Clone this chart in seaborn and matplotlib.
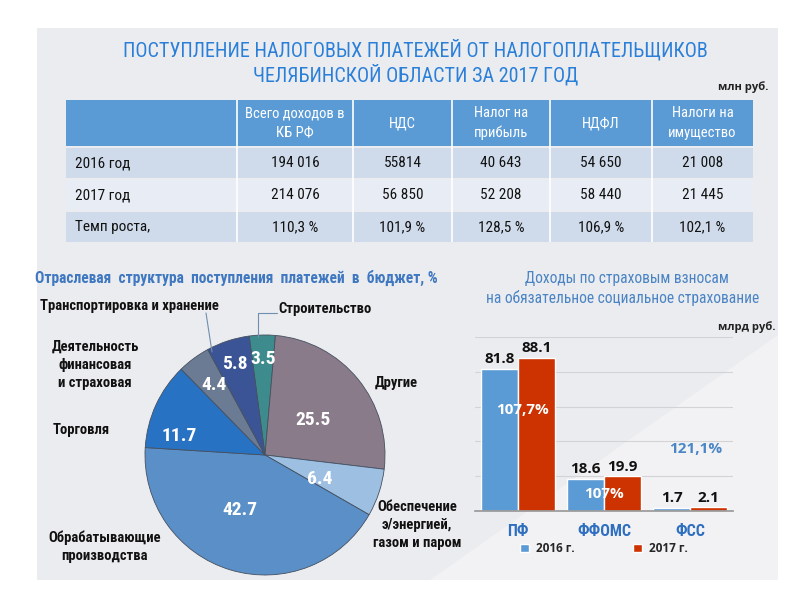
import numpy as np
import pandas as pd
import matplotlib
matplotlib.use("Agg")
import matplotlib.pyplot as plt
import seaborn as sns
from matplotlib import font_manager as fm
from matplotlib.patches import Rectangle, Polygon
from matplotlib.lines import Line2D
from matplotlib.colors import LinearSegmentedColormap

# --- table: tax receipts, mln rub ---
table_cols = ["Всего доходов в\nКБ РФ", "НДС", "Налог на\nприбыль", "НДФЛ", "Налоги на\nимущество"]
table_rows = ["2016 год", "2017 год", "Темп роста,"]
taxes_2016 = ["194 016", "55814", "40 643", "54 650", "21 008"]
taxes_2017 = ["214 076", "56 850", "52 208", "58 440", "21 445"]
taxes_growth = ["110,3 %", "101,9 %", "128,5 %", "106,9 %", "102,1 %"]

# --- pie: sector structure, % ---
sectors = ["Строительство", "Другие", "Обеспечение\nэ/энергией,\nгазом и паром",
           "Обрабатывающие\nпроизводства", "Торговля",
           "Деятельность\nфинансовая\nи страховая", "Транспортировка и хранение"]
shares = [3.5, 25.5, 6.4, 42.7, 11.7, 4.4, 5.8]

# --- bars: insurance contributions, bln rub ---
funds = ["ПФ", "ФФОМС", "ФСС"]
years = ["2016 г.", "2017 г."]
contrib_2016 = [81.8, 18.6, 1.7]
contrib_2017 = [88.1, 19.9, 2.1]
contrib_growth = ["107,7%", "107%", "121,1%"]

sns.set_theme(style="white")
_names = {f.name for f in fm.fontManager.ttflist}


def pick(cands, default="DejaVu Sans"):
    for c in cands:
        if c in _names:
            return c
    return default


NARROW = pick(["Liberation Sans Narrow", "Roboto Condensed", "Open Sans Condensed"], "Liberation Sans")
SANS = pick(["Open Sans", "Noto Sans"])
plt.rcParams["font.family"] = [SANS, "DejaVu Sans"]

W, H = 800, 600
fig = plt.figure(figsize=(8, 6), dpi=100)


def box(x0, y0, x1, y1):
    return [x0 / W, 1 - y1 / H, (x1 - x0) / W, (y1 - y0) / H]


# background canvas in pixel coordinates
bg = fig.add_axes([0, 0, 1, 1], zorder=-5)
bg.add_patch(Rectangle((37, 28), 741, 552, color="#ebecef", lw=0))
bg.add_patch(Polygon([(430, 580), (778, 580), (778, 335)], closed=True, color="#f2f2f4", lw=0))
red = LinearSegmentedColormap.from_list("r", ["#ec0008", "#b3000f"])
blue = LinearSegmentedColormap.from_list("b", ["#0b6ccb", "#0b4c9c"])
red2 = LinearSegmentedColormap.from_list("r2", ["#f50000", "#9c0008"])
grad = np.linspace(0, 1, 60)[:, None]
bg.imshow(grad, extent=(37, 55, 129, 57), cmap=red, aspect="auto")
bg.imshow(grad, extent=(733, 777, 533, 416), cmap=blue, aspect="auto")
bg.imshow(grad, extent=(733, 777, 578, 533), cmap=red2, aspect="auto")
bg.set_xlim(0, W)
bg.set_ylim(H, 0)
bg.axis("off")

# title
bg.text(415, 50, "ПОСТУПЛЕНИЕ НАЛОГОВЫХ ПЛАТЕЖЕЙ ОТ НАЛОГОПЛАТЕЛЬЩИКОВ",
        ha="center", va="center", fontsize=14.5, color="#2a7fd9", family=NARROW)
bg.text(416, 75, "ЧЕЛЯБИНСКОЙ ОБЛАСТИ ЗА 2017 ГОД",
        ha="center", va="center", fontsize=14.5, color="#2a7fd9", family=NARROW)
bg.text(768, 87, "млн руб.", ha="right", va="center", fontsize=8, fontweight="bold", color="#222222")

# table
col_edges = [66, 237, 353, 452, 550, 652, 753]
centers = [(a + b) / 2 for a, b in zip(col_edges[1:-1], col_edges[2:])]
bg.add_patch(Rectangle((66, 100), 687, 46, color="#5b9bd5", lw=0))
for cx, name in zip(centers, table_cols):
    bg.text(cx, 123, name, ha="center", va="center", fontsize=10.5, color="white",
            family=NARROW, linespacing=1.5)
row_fill = ["#cfdbeb", "#e8edf5", "#cfdbeb"]
for i, (label, vals) in enumerate(zip(table_rows, [taxes_2016, taxes_2017, taxes_growth])):
    top = 148 + 32 * i
    bg.add_patch(Rectangle((66, top), 687, 30, color=row_fill[i], lw=0))
    bg.text(75, top + 15, label, ha="left", va="center", fontsize=11, color="#111111", family=NARROW)
    for cx, v in zip(centers, vals):
        bg.text(cx, top + 15, v, ha="center", va="center", fontsize=11, color="#111111", family=NARROW)
bg.vlines(col_edges[1:-1], 100, 242, color="white", lw=1.2)

# pie
bg.text(35, 278, "Отраслевая  структура  поступления  платежей  в  бюджет, %",
        ha="left", va="center", fontsize=11.2, color="#3f78c0", family=NARROW, fontweight="bold")
pax = fig.add_axes(box(145, 335, 385, 575))
pie_colors = ["#3d8b8d", "#8a7b8b", "#9dbfe2", "#5a8fc8", "#2872c4", "#6b7b93", "#3b5496"]
wedges, _ = pax.pie(shares, colors=pie_colors, startangle=97.6, counterclock=False, radius=1,
                    wedgeprops=dict(edgecolor="#45505f", linewidth=0.6))
pax.set_xlim(-1, 1)
pax.set_ylim(-1, 1)
pax.set_aspect("equal")
label_r = [0.8, 0.5, 0.5, 0.5, 0.73, 0.72, 0.8]
label_nudge = [0, -3, -5, -8, 12, 0, 0]
for w, v, r, d in zip(wedges, shares, label_r, label_nudge):
    w.set_clip_on(False)
    a = np.deg2rad((w.theta1 + w.theta2) / 2 + d)
    pax.text(r * np.cos(a), r * np.sin(a), f"{v:.1f}", ha="center", va="center",
             fontsize=14, fontweight="bold", color="white", family=NARROW)

# outer sector labels (pixel positions)
sector_pos = [(278, 309, "left"), (375, 383, "left"), (417, 525, "center"), (105, 547, "center"),
              (53, 430, "left"), (95, 365, "center"), (40, 306, "left")]
for name, (x, y, ha) in zip(sectors, sector_pos):
    bg.text(x, y, name, ha=ha, va="center", fontsize=10.5, fontweight="bold", color="#111111",
            family=NARROW, linespacing=1.35, zorder=6)
fig.add_artist(Line2D([206 / W, 212 / W], [1 - 313 / H, 1 - 352 / H], color="#6f8fb0", lw=0.8))
fig.add_artist(Line2D([258 / W, 258 / W, 277 / W], [1 - 337 / H, 1 - 313 / H, 1 - 313 / H],
                      color="#6f8fb0", lw=0.8))

# bar chart
bg.text(627, 278, "Доходы по страховым взносам", ha="center", va="center",
        fontsize=11.2, color="#4a84c4", family=NARROW)
bg.text(623, 298, "на обязательное социальное страхование", ha="center", va="center",
        fontsize=11.2, color="#4a84c4", family=NARROW)
bg.text(775, 327, "млрд руб.", ha="right", va="center", fontsize=8, fontweight="bold", color="#222222")

df = pd.DataFrame({
    "fund": funds * 2,
    "year": [years[0]] * 3 + [years[1]] * 3,
    "value": contrib_2016 + contrib_2017,
})
bax = fig.add_axes(box(475, 337, 733, 511))
sns.barplot(data=df, x="fund", y="value", hue="year", palette=["#5b9bd5", "#cc3300"],
            width=0.86, saturation=1, ax=bax)
bax.set_facecolor("none")
bax.set_xlim(-0.5, 2.5)
bax.set_ylim(0, 100)
bax.set_yticks([20, 40, 60, 80, 100])
bax.yaxis.grid(True, color="#d3d3d6", lw=0.8)
bax.set_axisbelow(True)
bax.tick_params(axis="y", length=0, labelleft=False)
bax.set_xlabel("")
bax.set_ylabel("")
for s in ["top", "right", "left"]:
    bax.spines[s].set_visible(False)
bax.spines["bottom"].set_color("#9a9a9a")
bax.set_xticks([-0.5, 0.5, 1.5, 2.5], minor=True)
bax.tick_params(axis="x", which="minor", length=4, color="#9a9a9a", direction="out")
bax.tick_params(axis="x", which="major", length=0, pad=9)
for t in bax.get_xticklabels():
    t.set_fontfamily(NARROW)
    t.set_fontsize(11.5)
    t.set_fontweight("bold")
    t.set_color("#2f6fbf")
for c in bax.containers:
    bax.bar_label(c, fmt="%.1f", padding=2, fontsize=11, fontweight="bold", color="#111111")

growth_xy = [(0.05, 58), (1.0, 9.8), (2.07, 35.6)]
growth_col = ["white", "white", "#4a86c6"]
for (x, y), txt, col in zip(growth_xy, contrib_growth, growth_col):
    bax.text(x, y, txt, ha="center", va="center", fontsize=11, fontweight="bold", color=col)

handles, labels = bax.get_legend_handles_labels()
bax.legend(handles, labels, loc="center", bbox_to_anchor=(0.5, -0.215), ncol=2, frameon=False,
           handlelength=0.7, handleheight=0.7, columnspacing=5.0, handletextpad=0.6,
           prop=dict(weight="bold", size=8.5))

fig.savefig("out.png", dpi=100)
